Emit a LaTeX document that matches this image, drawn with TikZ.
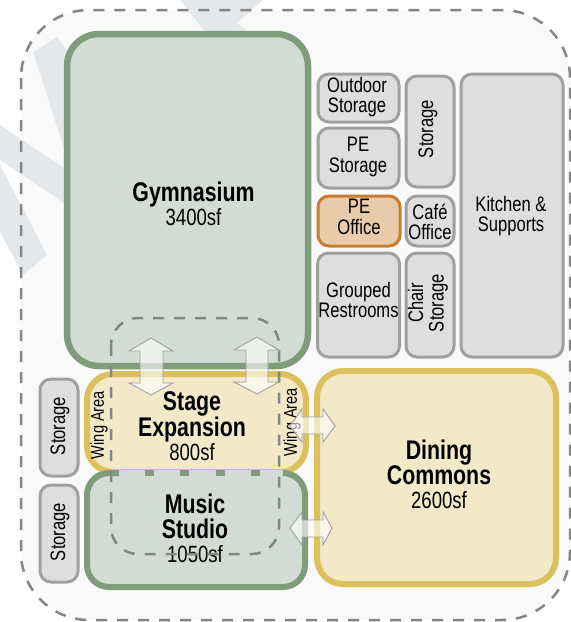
\documentclass[tikz,border=0pt]{standalone}
\usepackage{fontspec}
\setmainfont{Liberation Sans}[FakeStretch=0.79]
\definecolor{wm}{HTML}{E4E8EB}
\definecolor{gfill}{HTML}{D3DCD4}
\definecolor{gline}{HTML}{7F9C7B}
\definecolor{yfill}{HTML}{F3E9C8}
\definecolor{yline}{HTML}{DCC05C}
\definecolor{sfill}{HTML}{DEDEDE}
\definecolor{sline}{HTML}{A0A0A0}
\definecolor{ofill}{HTML}{E8CBAB}
\definecolor{oline}{HTML}{C47F30}
\definecolor{dashc}{HTML}{858585}
\newcommand{\smallfont}{\fontsize{21}{20.5}\selectfont}
\newcommand{\areafont}{\fontsize{23.5}{22}\selectfont}
\tikzset{
  every node/.style={inner sep=0pt,outer sep=0pt,align=center},
  room/.style={draw,rectangle,rounded corners=#1},
  green room/.style={room=32pt,draw=gline,fill=gfill,line width=6.5pt},
  yellow room/.style={room=26pt,draw=yline,fill=yfill,line width=6pt},
  small room/.style={room=11pt,draw=sline,fill=sfill,line width=3pt,font=\smallfont},
  office room/.style={small room,draw=oline,fill=ofill},
  small label/.style={font=\smallfont},
  big label/.style={font=\fontsize{27}{25}\selectfont},
  wing label/.style={rotate=90,font=\fontsize{18.5}{19}\selectfont},
  zone/.style={draw=dashc,line width=2.5pt,dash pattern=on 11pt off 10pt,rounded corners=#1},
  flow/.style={draw=black!38,line width=0.9pt,fill=white,fill opacity=0.6},
}
\begin{document}
\begin{tikzpicture}[x=1pt,y=-1pt]
\useasboundingbox (0,0) rectangle (571,622);
% zone background and watermark
\fill[white] (0,0) rectangle (571,622);
\fill[rounded corners=68pt,fill=black!2.5] (21,10) rectangle (570,620);
\fill[wm] (33,52) -- (57,37) -- (68,52) -- (64,148) -- cycle;
\fill[wm] (0,125) -- (64,168) -- (64,203) -- (0,160) -- cycle;
\fill[wm] (0,165) -- (47,255) -- (23,275) -- (0,232) -- cycle;
\fill[wm] (180,0) -- (263,0) -- (237,23) -- (248,32) -- (205,32) -- cycle;
\draw[zone=68pt] (21,10) rectangle (570,620);
% main rooms
\node[green room,minimum width=241pt,minimum height=332pt] (gym) at (187.5,200) {};
\node[yellow room,minimum width=219pt,minimum height=98pt] (stage) at (196.5,423) {};
\fill[gfill,rounded corners=20pt] (87,470) rectangle (305,587);
\node[yellow room,minimum width=239pt,minimum height=213pt] (dining) at (436.5,477.5) {};
\draw[gline,line width=6pt,rounded corners=22pt] (119,473) -- (87,473) -- (87,587) -- (305,587) -- (305,473) -- (287,473);
\coordinate (mstart) at (145,473);
\coordinate (mend) at (261,473);
\draw[gline,line width=6pt,dash pattern=on 9pt off 26.4pt] (mstart) -- (mend);
% small rooms
\node[small room,minimum width=81pt,minimum height=48pt] (outdoor) at (358.5,98) {};
\node[small label] (outdoorlabel) at (357,97) {Outdoor\\Storage};
\node[small room,minimum width=81pt,minimum height=60pt] (pestorage) at (358.5,158) {};
\node[small label] (pestoragelabel) at (358,157) {PE\\Storage};
\node[office room,minimum width=82pt,minimum height=50pt] (peoffice) at (359,221) {};
\node[small label] (peofficelabel) at (359,217) {PE\\Office};
\node[small room,minimum width=82pt,minimum height=104pt] (restrooms) at (358.5,305) {};
\node[small label] (restroomslabel) at (358.5,300) {Grouped\\Restrooms};
\node[small room,minimum width=48pt,minimum height=111pt] (storagetop) at (430,131.5) {};
\node[small label,rotate=90] (storagetoplabel) at (428,129) {Storage};
\node[small room,minimum width=48pt,minimum height=50pt] (cafe) at (430,221) {};
\node[small label] (cafelabel) at (430,222) {Café\\Office};
\node[small room,minimum width=48pt,minimum height=104pt] (chair) at (430,305) {};
\node[small label,rotate=90] (chairlabel) at (428,303) {Chair\\Storage};
\node[small room,minimum width=102pt,minimum height=283pt] (kitchen) at (512,215.5) {};
\node[small label] (kitchenlabel) at (511,216) {Kitchen \&\\Supports};
\node[small room,minimum width=38pt,minimum height=97pt] (storagea) at (59,427.5) {};
\node[small label,rotate=90] (storagealabel) at (60,426) {Storage};
\node[small room,minimum width=38pt,minimum height=97pt] (storageb) at (59,533.5) {};
\node[small label,rotate=90] (storageblabel) at (60,532) {Storage};
% labels
\node[big label] (gymlabel) at (193.5,203.5) {\textbf{Gymnasium}\\[-1pt]\areafont 3400sf};
\node[big label] (stagelabel) at (192,426) {\textbf{Stage}\\\textbf{Expansion}\\[-1pt]\areafont 800sf};
\node[big label] (musiclabel) at (195,528) {\textbf{Music}\\\textbf{Studio}\\[-1pt]\areafont 1050sf};
\node[big label] (dininglabel) at (439,474) {\textbf{Dining}\\\textbf{Commons}\\[-1pt]\areafont 2600sf};
\node[wing label] (wingleft) at (99,425) {Wing Area};
\node[wing label] (wingright) at (292,422) {Wing Area};
% interior dashed zone
\draw[zone=27pt] (111,318) rectangle (279,554);
% flow arrows
\draw[flow] (151,338) -- (173,351) -- (163,351) -- (163,383) -- (173,383) -- (151,395) -- (129,383) -- (140,383) -- (140,351) -- (129,351) -- cycle;
\draw[flow] (257,337) -- (279,350) -- (268,350) -- (268,382) -- (279,382) -- (257,394) -- (234,382) -- (246,382) -- (246,350) -- (234,350) -- cycle;
\draw[flow] (335,426) -- (323,409) -- (323,417) -- (302,417) -- (302,409) -- (290,426) -- (302,442) -- (302,434) -- (323,434) -- (323,442) -- cycle;
\draw[flow] (332,528) -- (323,512) -- (323,520) -- (302,520) -- (302,512) -- (290,528) -- (302,545) -- (302,537) -- (323,537) -- (323,545) -- cycle;
\end{tikzpicture}
\end{document}
